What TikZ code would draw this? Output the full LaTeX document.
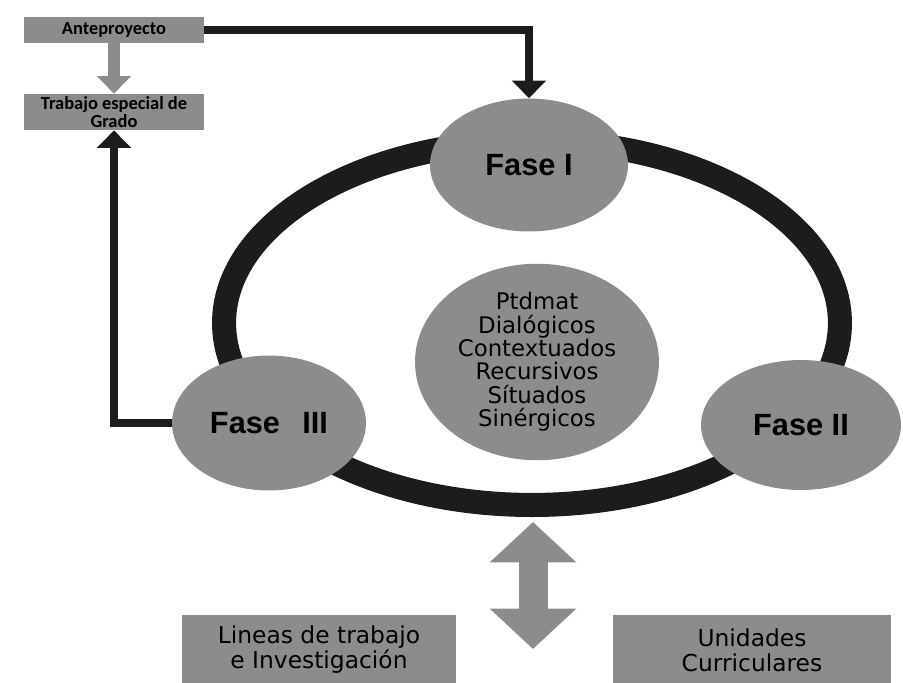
\documentclass[tikz,border=0pt]{standalone}
\usepackage{fontspec}
\setmainfont{DejaVu Sans}
\newfontfamily\fasefont{Liberation Sans}
\newfontfamily\boxfont{Carlito}
\usetikzlibrary{shapes.geometric, arrows.meta, positioning}
\definecolor{fillgray}{RGB}{140, 140, 140}
\definecolor{ringblack}{RGB}{28, 28, 28}

\begin{document}
\begin{tikzpicture}[x=0.02cm, y=-0.02cm,
  smallbox/.style={draw=none, fill=fillgray, minimum width=3.6cm, inner sep=0pt, align=center,
    font=\boxfont\bfseries\fontsize{10.5}{8.5}\selectfont},
  fase/.style={ellipse, fill=fillgray, inner sep=0pt, font=\fasefont\bfseries\fontsize{17.5}{19}\selectfont},
  bigbox/.style={fill=fillgray, minimum height=1.4cm, inner sep=0pt, align=center,
    font=\fontsize{13.3}{14.2}\selectfont},
  conn/.style={line width=4pt, ringblack, -{Triangle[width=19pt, length=10pt]}},
]
  \useasboundingbox (0,0) rectangle (903,683);

  % anillo
  \draw[line width=13.7pt, ringblack] (532,323) ellipse [x radius=6.16cm, y radius=3.64cm];

  \node[smallbox, minimum height=0.52cm] (ante) at (114,30) {Anteproyecto};
  \node[smallbox, minimum height=0.72cm] (tesg) at (114,112) {Trabajo especial de\\Grado};

  \node[fase, minimum width=3.96cm, minimum height=2.66cm] (fase1) at (529,165) {Fase I};
  \node[fase, minimum width=4.0cm, minimum height=2.6cm] (fase2) at (801,425) {Fase II};
  \node[fase, minimum width=3.88cm, minimum height=2.7cm] (fase3) at (269,423) {Fase~\hspace{3pt}~III};

  \node[ellipse, fill=fillgray, minimum width=4.88cm, minimum height=3.24cm, inner sep=0pt,
        align=center, font=\fontsize{13}{13.3}\selectfont] (centro) at (537,362)
        {Ptdmat\\Dialógicos\\Contextuados\\Recursivos\\Sítuados\\Sinérgicos};

  \node[bigbox, minimum width=5.48cm] (lineas) at (319,650) {Lineas de trabajo\\e Investigación};
  \node[bigbox, minimum width=5.56cm] (unidades) at (752,650) {Unidades\\Curriculares};

  \draw[line width=6.3pt, fillgray, -{Triangle[width=19pt, length=10pt]}] (ante.south) -- (tesg.north);
  \draw[conn] (ante.east) -| (fase1.north);
  \draw[conn] (fase3.west) -| (tesg.south);

  \coordinate (dtop) at (533,522);
  \coordinate (dbot) at (533,649);
  \draw[line width=16.5pt, fillgray, {Triangle[width=48pt, length=23pt]}-{Triangle[width=48pt, length=23pt]}] (dtop) -- (dbot);
\end{tikzpicture}
\end{document}
